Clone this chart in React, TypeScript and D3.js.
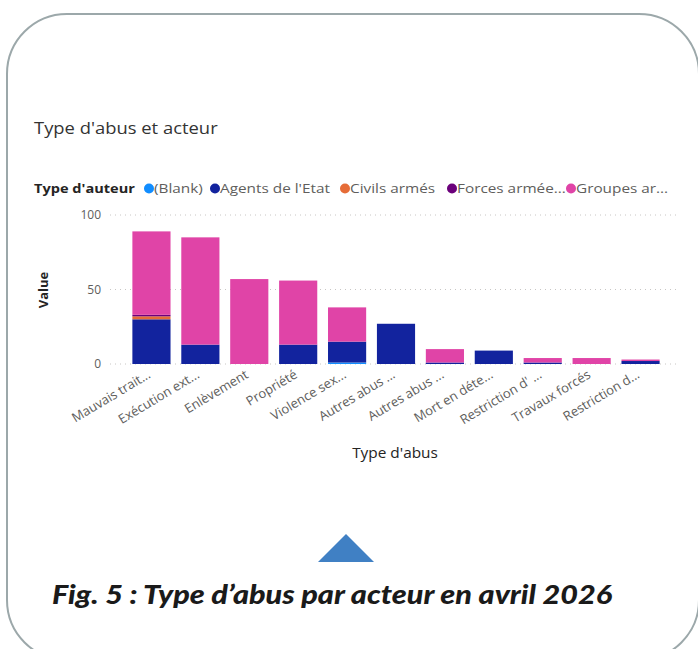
import React from "react";
import * as d3 from "d3";

const categories = [
  "Mauvais trait...",
  "Exécution ext...",
  "Enlèvement",
  "Propriété",
  "Violence sex...",
  "Autres abus ...",
  "Autres abus  ...",
  "Mort en déte...",
  "Restriction d' ...",
  "Travaux forcés",
  "Restriction d...",
];
const blank = [0, 0, 0, 0, 1, 0, 0, 0, 0, 0, 0];
const agents = [30, 13, 0, 13, 14, 27, 1, 9, 1, 0, 2];
const civils = [2, 0, 0, 0, 0, 0, 0, 0, 0, 0, 0];
const forces = [1, 0, 0, 0, 0, 0, 0, 0, 0, 0, 0];
const groupes = [56, 72, 57, 43, 23, 0, 9, 0, 3, 4, 1];

const seriesKeys = ["blank", "agents", "civils", "forces", "groupes"];
const legendLabels = ["(Blank)", "Agents de l'Etat", "Civils armés", "Forces armée...", "Groupes ar..."];
const colors = ["#118DFF", "#12239E", "#E66C37", "#6B007B", "#E044A7"];
const yTicks = [0, 50, 100];

const font = "'Open Sans', 'Segoe UI', sans-serif";
// the screenshot is a bit stretched sideways, so text is widened a little
const sx = 1.15;

const App = () => {
  const width = 698;
  const height = 649;

  const rows = categories.map((c, i) => ({
    cat: c,
    blank: blank[i],
    agents: agents[i],
    civils: civils[i],
    forces: forces[i],
    groupes: groupes[i],
  }));

  const stacked = d3.stack<any>().keys(seriesKeys)(rows);

  const x = d3
    .scaleBand()
    .domain(categories)
    .range([127, 665])
    .paddingInner(0.22)
    .paddingOuter(0.11);

  const y = d3.scaleLinear().domain([0, 100]).range([364, 215]);
  const color = d3.scaleOrdinal<string>().domain(seriesKeys).range(colors);

  const legendX = [149, 215, 345, 452, 571];

  return (
    <svg
      width={width}
      height={height}
      style={{ position: "absolute", left: 0, top: 0, background: "#fff" }}
    >
      <rect x={7} y={14} width={692} height={646} rx={60} ry={60} fill="none" stroke="#9ca8aa" strokeWidth={2} />

      <text transform={`translate(34,134) scale(${sx},1)`} fontFamily={font} fontSize={16} fill="#333">
        Type d'abus et acteur
      </text>

      {/* legend */}
      <g fontFamily={font} fontSize={13}>
        <text transform={`translate(34,193) scale(1.12,1)`} fontWeight={700} fill="#252423">
          Type d'auteur
        </text>
        {legendLabels.map((l, i) => (
          <g key={l}>
            <circle cx={legendX[i]} cy={188.5} r={5} fill={colors[i]} />
            <text transform={`translate(${legendX[i] + 5},193) scale(1.18,1)`} fill="#605E5C">
              {l}
            </text>
          </g>
        ))}
      </g>

      {/* gridlines + y ticks */}
      {yTicks.map((t) => (
        <g key={t}>
          <line
            x1={110}
            x2={680}
            y1={y(t)}
            y2={y(t)}
            stroke="#c8c6c4"
            strokeWidth={1}
            strokeDasharray="1 4"
          />
          <text
            x={101}
            y={y(t)}
            dy="0.35em"
            textAnchor="end"
            fontFamily={font}
            fontSize={12}
            fill="#605E5C"
          >
            {t}
          </text>
        </g>
      ))}

      <text
        transform={`translate(48,290) rotate(-90)`}
        textAnchor="middle"
        fontFamily={font}
        fontSize={13}
        fontWeight={700}
        fill="#252423"
      >
        Value
      </text>

      {/* bars */}
      {stacked.map((s) => (
        <g key={s.key} fill={color(s.key)}>
          {s.map((d, i) =>
            d[1] - d[0] > 0 ? (
              <rect
                key={i}
                x={x(categories[i])}
                y={y(d[1])}
                width={x.bandwidth()}
                height={y(d[0]) - y(d[1])}
              />
            ) : null
          )}
        </g>
      ))}

      {/* x tick labels */}
      {categories.map((c) => (
        <text
          key={c}
          transform={`translate(${(x(c) as number) + x.bandwidth() / 2},${377}) rotate(-31)`}
          textAnchor="end"
          fontFamily={font}
          fontSize={13}
          fill="#605E5C"
        >
          {c.trim()}
        </text>
      ))}

      <text transform={`translate(395,458) scale(1.1,1)`} textAnchor="middle" fontFamily={font} fontSize={14} fill="#252423">
        Type d'abus
      </text>

      {/* decoration + caption */}
      <path d="M346,534 L318,562 L374,562 Z" fill="#4080C4" />
      <text
        x={52}
        y={604}
        fontFamily="Lato, 'DejaVu Sans', sans-serif"
        fontSize={26}
        fontWeight={900}
        fontStyle="italic"
        fill="#1a1a1a"
        textLength={560}
        lengthAdjust="spacingAndGlyphs"
      >
        Fig. 5 : Type d’abus par acteur en avril 2026
      </text>
    </svg>
  );
};

export default App;
